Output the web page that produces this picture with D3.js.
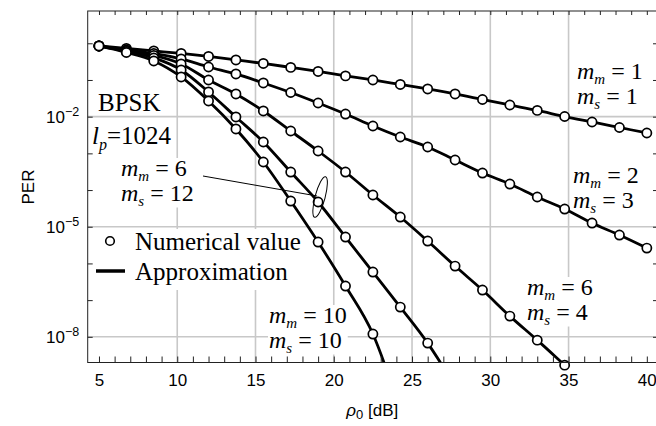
<!DOCTYPE html>
<html>
<head>
<meta charset="utf-8">
<script src="https://cdn.jsdelivr.net/npm/d3@7"></script>
<style>
  body { margin: 0; background: #fff; }
  svg text { white-space: pre; }
</style>
</head>
<body>
<div id="chart"></div>
<script>
// average SNR rho_0 [dB] where the numerical values were computed
var snr = [5, 6.75, 8.5, 10.25, 12, 13.75, 15.5, 17.25, 19, 20.75, 22.5, 24.25, 26, 27.75, 29.5, 31.25, 33, 34.75, 36.5, 38.25, 40];

// PER per (m_m, m_s) pair (last value of the short ones lies below the axis)
var per_1_1 = [0.847, 0.724, 0.619, 0.529, 0.438, 0.351, 0.282, 0.220, 0.171, 0.129, 0.100, 0.0755, 0.0569, 0.0416, 0.0294, 0.0208, 0.0148, 0.0101, 7.16e-3, 5.07e-3, 3.59e-3];
var per_2_3 = [0.847, 0.659, 0.529, 0.374, 0.226, 0.146, 0.0829, 0.0456, 0.0236, 0.0118, 5.57e-3, 2.79e-3, 1.49e-3, 6.59e-4, 2.91e-4, 1.46e-4, 6.46e-5, 3.04e-5, 1.26e-5, 5.94e-6, 2.62e-6];
var per_6_4 = [0.847, 0.619, 0.467, 0.273, 0.100, 0.0416, 0.0143, 4.07e-3, 1.16e-3, 3.10e-4, 7.33e-5, 1.84e-5, 4.07e-6, 8.47e-7, 1.88e-7, 3.67e-8, 8.12e-9, 1.69e-9, 3.5e-10];
var per_6_12 = [0.847, 0.600, 0.399, 0.187, 0.0471, 9.81e-3, 2.04e-3, 3.10e-4, 4.72e-5, 5.24e-6, 5.82e-7, 6.46e-8, 6.74e-9, 4.5e-10];
var per_10_10 = [0.847, 0.563, 0.330, 0.121, 0.0268, 4.62e-3, 5.82e-4, 5.02e-5, 3.83e-6, 2.42e-7, 1.19e-8, 1.0e-10];

var labelMm = [1, 2, 6, 6, 10];
var labelMs = [1, 3, 4, 12, 10];

var xTickLabels = [5, 10, 15, 20, 25, 30, 35, 40];
var xGrid = [10, 15, 20, 25, 30, 35];
var yTickExps = [-2, -5, -8];

var svgWidth = 656;
var svgHeight = 426;

var chartMargin = { top: 11, left: 87.7 };
var chartWidth = 569.3;
var chartHeight = 351.5;

var serif = "'Liberation Serif', 'Times New Roman', serif";
var sans = "'Liberation Sans', Arial, sans-serif";

var svg = d3.select("#chart")
  .append("svg")
  .attr("width", svgWidth)
  .attr("height", svgHeight);

var chartGroup = svg.append("g")
  .attr("transform", `translate(${chartMargin.left}, ${chartMargin.top})`);

var xScale = d3.scaleLinear()
  .domain([4.28, 40.65])
  .range([0, chartWidth]);

var yScale = d3.scaleLog()
  .domain([Math.pow(10, -8.7), Math.pow(10, 0.88)])
  .range([chartHeight, 0]);

// grid
chartGroup.selectAll(".vgrid")
  .data(xGrid)
  .enter()
  .append("line")
  .attr("x1", d => xScale(d)).attr("x2", d => xScale(d))
  .attr("y1", 0).attr("y2", chartHeight)
  .attr("stroke", "#c8c8c8")
  .attr("stroke-width", 1.6);

chartGroup.selectAll(".hgrid")
  .data(yTickExps)
  .enter()
  .append("line")
  .attr("x1", 0).attr("x2", chartWidth)
  .attr("y1", d => yScale(Math.pow(10, d))).attr("y2", d => yScale(Math.pow(10, d)))
  .attr("stroke", "#c8c8c8")
  .attr("stroke-width", 1.6);

// white boxes behind the annotations: above the grid, below the curves
var bgLayer = chartGroup.append("g")
  .attr("transform", `translate(${-chartMargin.left}, ${-chartMargin.top})`);
var curveLayer = chartGroup.append("g");

// clip the approximation lines to the frame
svg.append("defs").append("clipPath").attr("id", "clip")
  .append("rect").attr("width", chartWidth).attr("height", chartHeight);

var line = d3.line()
  .x(function(d, i) { return xScale(snr[i]); })
  .y(function(d) { return yScale(d); })
  .curve(d3.curveMonotoneX);

var curves = [per_1_1, per_2_3, per_6_4, per_6_12, per_10_10];

curveLayer.selectAll(".approx")
  .data(curves)
  .enter()
  .append("path")
  .attr("clip-path", "url(#clip)")
  .attr("d", d => line(d))
  .attr("fill", "none")
  .attr("stroke", "#000")
  .attr("stroke-width", 2.8);

var minShown = Math.pow(10, -8.8);
curves.forEach(function(c) {
  var pts = c.map((v, i) => [snr[i], v]).filter(p => p[1] >= minShown);
  curveLayer.selectAll(null)
    .data(pts)
    .enter()
    .append("circle")
    .attr("cx", d => xScale(d[0]))
    .attr("cy", d => yScale(d[1]))
    .attr("r", 4.6)
    .attr("fill", "#fff")
    .attr("stroke", "#000")
    .attr("stroke-width", 1.7);
});

// axes (ticks inward on all four sides)
var xTicks = d3.range(5, 41);
var decades = d3.range(-8, 1).map(e => Math.pow(10, e));

var xAxis = d3.axisBottom(xScale)
  .tickValues(xTicks)
  .tickSize(-6)
  .tickPadding(11.5)
  .tickFormat(d => xTickLabels.indexOf(d) >= 0 ? d : "");

var gx = chartGroup.append("g")
  .attr("transform", `translate(0, ${chartHeight})`)
  .call(xAxis);

chartGroup.append("g")
  .call(d3.axisTop(xScale).tickValues(xTicks).tickSize(-4).tickFormat(""));

chartGroup.append("g")
  .call(d3.axisLeft(yScale).tickValues(decades).tickSize(-5).tickFormat(""));

chartGroup.append("g")
  .attr("transform", `translate(${chartWidth}, 0)`)
  .call(d3.axisRight(yScale).tickValues(decades).tickSize(-4).tickFormat(""));

chartGroup.selectAll(".domain").remove();
chartGroup.selectAll(".tick line").attr("stroke", "#222").attr("stroke-width", 1);
gx.selectAll("text")
  .attr("font-family", sans)
  .attr("font-size", 17)
  .attr("fill", "#000");

chartGroup.append("rect")
  .attr("width", chartWidth)
  .attr("height", chartHeight)
  .attr("fill", "none")
  .attr("stroke", "#222")
  .attr("stroke-width", 1);

// y tick labels 10^-2, 10^-5, 10^-8
yTickExps.forEach(function(e) {
  var t = chartGroup.append("text")
    .attr("x", -8.5)
    .attr("y", yScale(Math.pow(10, e)) + 6)
    .attr("text-anchor", "end")
    .attr("font-family", sans)
    .attr("font-size", 17);
  t.append("tspan").text("10");
  t.append("tspan").attr("dy", -7).attr("font-size", 12.5).text("\u2212" + (-e));
});

// axis titles
var xt = svg.append("text")
  .attr("x", chartMargin.left + chartWidth / 2)
  .attr("y", 416)
  .attr("text-anchor", "middle")
  .attr("font-family", sans)
  .attr("font-size", 17);
xt.append("tspan").attr("font-style", "italic").text("\u03c1");
xt.append("tspan").attr("dy", 3).attr("font-size", 13).text("0");
xt.append("tspan").attr("dy", -3).text(" [dB]");

svg.append("text")
  .attr("transform", "translate(34, 187) rotate(-90)")
  .attr("text-anchor", "middle")
  .attr("font-family", sans)
  .attr("font-size", 17)
  .text("PER");

var textLayer = svg.append("g");

// text with a white box underneath
function boxedText(x, y, build, size) {
  var t = textLayer.append("text")
    .attr("x", x)
    .attr("y", y)
    .attr("font-family", serif)
    .attr("font-size", size)
    .attr("fill", "#000");
  build(t, x);
  var b = t.node().getBBox();
  bgLayer.append("rect")
    .attr("x", b.x - 1).attr("y", b.y + 3)
    .attr("width", b.width + 2).attr("height", b.height - 4)
    .attr("fill", "#fff");
  return t;
}

// two-line "m_m = a / m_s = b" label as one text element
function mLabel(mm, ms) {
  return function(t, x) {
    t.append("tspan").attr("font-style", "italic").text("m");
    t.append("tspan").attr("font-style", "italic").attr("font-size", 15).attr("dy", 5).text("m");
    t.append("tspan").attr("dy", -5).text(" = " + mm);
    t.append("tspan").attr("x", x).attr("dy", 24.5).attr("font-style", "italic").text("m");
    t.append("tspan").attr("font-style", "italic").attr("font-size", 15).attr("dy", 5).text("s");
    t.append("tspan").attr("dy", -5).text(" = " + ms);
  };
}

var labelPos = [[577, 79], [573, 183], [527, 295], [121, 176], [269, 323]];
labelPos.forEach(function(p, i) {
  boxedText(p[0], p[1], mLabel(labelMm[i], labelMs[i]), 24);
});

boxedText(98, 110.5, function(t) { t.text("BPSK"); }, 25);
boxedText(92, 144, function(t) {
  t.append("tspan").attr("font-style", "italic").text("l");
  t.append("tspan").attr("font-style", "italic").attr("font-size", 16).attr("dy", 6).text("p");
  t.append("tspan").attr("dy", -6).text("=1024");
}, 25);

// pointer to the m_m = 6, m_s = 12 curve
var mark = [xScale(snr[8]) + chartMargin.left + 2, yScale(per_6_12[8]) + chartMargin.top - 5];
textLayer.append("line")
  .attr("x1", 203).attr("y1", 176)
  .attr("x2", mark[0] - 3).attr("y2", mark[1] - 1)
  .attr("stroke", "#000").attr("stroke-width", 1);
textLayer.append("ellipse")
  .attr("cx", mark[0]).attr("cy", mark[1])
  .attr("rx", 5).attr("ry", 21)
  .attr("transform", `rotate(15, ${mark[0]}, ${mark[1]})`)
  .attr("fill", "none")
  .attr("stroke", "#000").attr("stroke-width", 1);

// legend
bgLayer.append("rect")
  .attr("x", 90).attr("y", 229)
  .attr("width", 218).attr("height", 61)
  .attr("fill", "#fff");
textLayer.append("circle")
  .attr("cx", 110).attr("cy", 241).attr("r", 4.3)
  .attr("fill", "#fff").attr("stroke", "#000").attr("stroke-width", 1.6);
textLayer.append("line")
  .attr("x1", 96).attr("x2", 125).attr("y1", 271).attr("y2", 271)
  .attr("stroke", "#000").attr("stroke-width", 3.5);
textLayer.append("text")
  .attr("x", 135).attr("y", 249.5)
  .attr("font-family", serif).attr("font-size", 25)
  .text("Numerical value");
textLayer.append("text")
  .attr("x", 135).attr("y", 279.5)
  .attr("font-family", serif).attr("font-size", 25)
  .text("Approximation");
</script>
</body>
</html>
